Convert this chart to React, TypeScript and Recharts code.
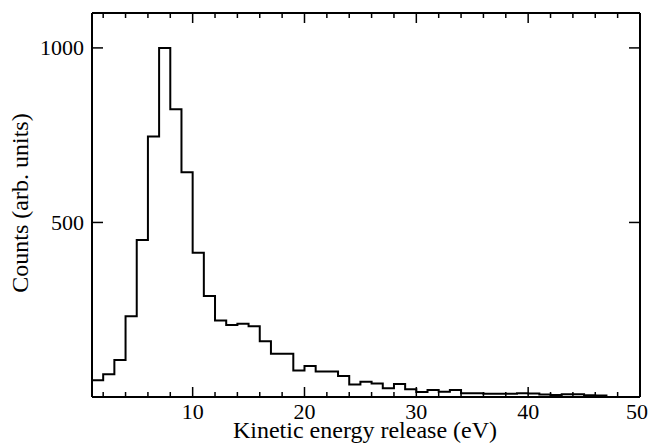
import React from 'react';
import { ComposedChart, Line, XAxis, YAxis } from 'recharts';

// Histogram bins (1 eV wide), left edges in eV
const binStarts = [
  1, 2, 3, 4, 5, 6, 7, 8, 9, 10,
  11, 12, 13, 14, 15, 16, 17, 18, 19, 20,
  21, 22, 23, 24, 25, 26, 27, 28, 29, 30,
  31, 32, 33, 34, 35, 36, 37, 38, 39, 40,
  41, 42, 43, 44, 45, 46,
];
const counts = [
  48, 65, 106, 231, 450, 746, 1000, 824, 644, 413,
  289, 219, 206, 210, 203, 160, 124, 124, 76, 89,
  73, 73, 60, 36, 44, 39, 25, 37, 22, 14,
  20, 15, 20, 11, 11, 9, 9, 9, 11, 10,
  7, 6, 8, 8, 5, 4,
];
const lastBinEnd = 47;

const xDomain = [1, 50];
const yDomain = [0, 1100];
const xTicks = [2, 4, 6, 8, 10, 12, 14, 16, 18, 20, 22, 24, 26, 28, 30, 32, 34, 36, 38, 40, 42, 44, 46, 48, 50];
const xMajorStep = 10;
const yTicks = [500, 1000];

const xTitle = 'Kinetic energy release (eV)';
const yTitle = 'Counts (arb. units)';

const FONT = 'Liberation Serif';
const TICK_FS = 22;
const TITLE_FS = 24;
const INK = '#000';

const data = binStarts
  .map((x, i) => ({ x, count: counts[i] }))
  .concat([{ x: lastBinEnd, count: 0 }]);

const BottomTick = (props: any) => {
  const { x, y, payload } = props;
  const v = payload.value;
  const major = v % xMajorStep === 0;
  const len = major ? 10 : 5;
  const dx = v === xDomain[1] ? -3 : 0;
  return (
    <g>
      <path d={`M${x},${y}L${x},${y - len}`} stroke={INK} strokeWidth={1.5} fill="none" />
      {major && (
        <text x={x + dx} y={y + 14} textAnchor="middle" dominantBaseline="central" style={{ fontSize: TICK_FS, fontFamily: FONT, fill: INK }}>
          {v}
        </text>
      )}
    </g>
  );
};

const TopTick = (props: any) => {
  const { x, y, payload } = props;
  const len = payload.value % xMajorStep === 0 ? 10 : 5;
  return <path d={`M${x},${y}L${x},${y + len}`} stroke={INK} strokeWidth={1.5} fill="none" />;
};

const LeftTick = (props: any) => {
  const { x, y, payload } = props;
  return (
    <g>
      <path d={`M${x},${y}L${x + 11},${y}`} stroke={INK} strokeWidth={1.5} fill="none" />
      <text x={x - 8} y={y} textAnchor="end" dominantBaseline="central" style={{ fontSize: TICK_FS, fontFamily: FONT, fill: INK }}>
        {payload.value}
      </text>
    </g>
  );
};

const RightTick = (props: any) => {
  const { x, y } = props;
  return <path d={`M${x},${y}L${x - 11},${y}`} stroke={INK} strokeWidth={1.5} fill="none" />;
};

const YTitle = (props: any) => {
  const vb = props.viewBox || { x: 0, y: 13, width: 92, height: 384 };
  const cx = vb.x + 28;
  const cy = vb.y + vb.height / 2 - 2;
  return (
    <text x={cx} y={cy} transform={`rotate(-90 ${cx} ${cy})`} textAnchor="middle" style={{ fontSize: TITLE_FS, fontFamily: FONT, fill: INK }}>
      {yTitle}
    </text>
  );
};

const XTitle = (props: any) => {
  const vb = props.viewBox || { x: 92, y: 397, width: 548, height: 46 };
  const cx = vb.x + vb.width / 2 - 1;
  const cy = vb.y + 41;
  return (
    <text x={cx} y={cy} textAnchor="middle" style={{ fontSize: TITLE_FS, fontFamily: FONT, fill: INK }}>
      {xTitle}
    </text>
  );
};

export default function App() {
  const axisLine = { stroke: INK, strokeWidth: 2 };
  return (
    <div style={{ position: 'absolute', left: 0, top: 0, width: 655, height: 443, background: '#fff' }}>
      <ComposedChart width={655} height={443} data={data} margin={{ top: 12, right: 14, bottom: 0, left: 0 }}>
        <XAxis
          xAxisId="bottom"
          dataKey="x"
          type="number"
          domain={xDomain}
          ticks={xTicks}
          interval={0}
          allowDataOverflow
          height={46}
          tickSize={0}
          tickMargin={0}
          tickLine={false}
          axisLine={axisLine}
          tick={<BottomTick />}
          label={{ content: <XTitle /> }}
        />
        <XAxis
          xAxisId="top"
          orientation="top"
          dataKey="x"
          type="number"
          domain={xDomain}
          ticks={xTicks}
          interval={0}
          allowDataOverflow
          height={1}
          tickSize={0}
          tickMargin={0}
          tickLine={false}
          axisLine={axisLine}
          tick={<TopTick />}
        />
        <YAxis
          yAxisId="left"
          type="number"
          domain={yDomain}
          ticks={yTicks}
          interval={0}
          allowDataOverflow
          width={92}
          tickSize={0}
          tickMargin={0}
          tickLine={false}
          axisLine={axisLine}
          tick={<LeftTick />}
          label={{ content: <YTitle /> }}
        />
        <YAxis
          yAxisId="right"
          orientation="right"
          type="number"
          domain={yDomain}
          ticks={yTicks}
          interval={0}
          allowDataOverflow
          width={1}
          tickSize={0}
          tickMargin={0}
          tickLine={false}
          axisLine={axisLine}
          tick={<RightTick />}
        />
        <Line
          xAxisId="bottom"
          yAxisId="left"
          dataKey="count"
          type="stepAfter"
          stroke={INK}
          strokeWidth={2}
          dot={false}
          activeDot={false}
          isAnimationActive={false}
        />
      </ComposedChart>
    </div>
  );
}
